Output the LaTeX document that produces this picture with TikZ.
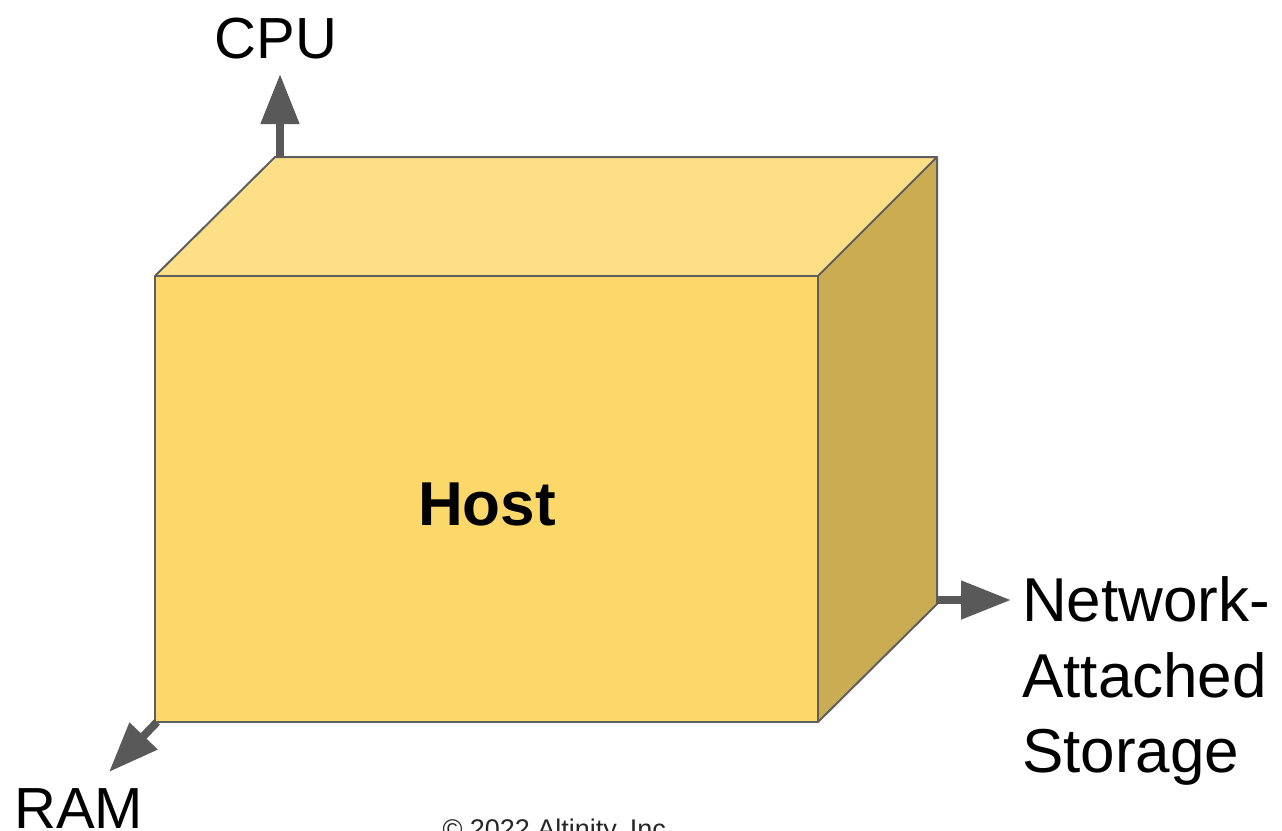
\documentclass[tikz,border=0pt]{standalone}
\usepackage{fontspec}
\setmainfont{Liberation Sans}
\usetikzlibrary{arrows.meta}
\definecolor{frontc}{RGB}{252,216,106}
\definecolor{topc}{RGB}{253,223,135}
\definecolor{sidec}{RGB}{202,173,82}
\definecolor{edgec}{RGB}{95,95,95}
\definecolor{arrc}{RGB}{89,89,89}
\tikzset{
  face/.style={draw=edgec, line width=2pt, line join=round},
  axisarrow/.style={draw=arrc, line width=8pt, -{Triangle[length=50pt,width=37pt]}},
  biglabel/.style={font=\fontsize{58}{70}\selectfont, text=black, inner sep=0pt},
  netlabel/.style={font=\fontsize{62}{70}\selectfont, text=black, inner sep=0pt, anchor=base west},
}
\begin{document}
\begin{tikzpicture}[x=1pt,y=-1pt]
\useasboundingbox (0,0) rectangle (1282,830);
% cube corners
\coordinate (ftl) at (155,276);
\coordinate (ftr) at (818,276);
\coordinate (fbl) at (155,722);
\coordinate (fbr) at (818,722);
\coordinate (btl) at (275,157);
\coordinate (btr) at (937,157);
\coordinate (bbr) at (937,604);
% faces
\fill[topc] (ftl) -- (btl) -- (btr) -- (ftr) -- cycle;
\fill[sidec] (ftr) -- (btr) -- (bbr) -- (fbr) -- cycle;
\fill[frontc] (ftl) rectangle (fbr);
\draw[face] (ftl) -- (btl) -- (btr) -- (ftr);
\draw[face] (btr) -- (bbr) -- (fbr);
\draw[face] (ftl) rectangle (fbr);
% arrows
\coordinate (cpustart) at (280,157);
\coordinate (cputip) at (280,74);
\coordinate (ramstart) at (157,722);
\coordinate (ramtip) at (109,772);
\coordinate (netstart) at (937,600);
\coordinate (nettip) at (1011,600);
\draw[axisarrow] (cpustart) -- (cputip);
\draw[axisarrow] (ramstart) -- (ramtip);
\draw[axisarrow] (netstart) -- (nettip);
% labels
\node[biglabel, anchor=base] (cpu) at (276,58) {CPU};
\node[biglabel, anchor=base west] (ram) at (14,828) {RAM};
\node[netlabel] (net1) at (1022,621) {Network-};
\node[netlabel] (net2) at (1022,697) {Attached};
\node[netlabel] (net3) at (1022,772) {Storage};
\node[font=\fontsize{62}{70}\selectfont\bfseries, inner sep=0pt, anchor=base] (host) at (487,525) {Host};
\node[font=\fontsize{27}{30}\selectfont, inner sep=0pt, anchor=base, text=black!85] (copy) at (558,838) {© 2022 Altinity, Inc.};
\end{tikzpicture}
\end{document}
